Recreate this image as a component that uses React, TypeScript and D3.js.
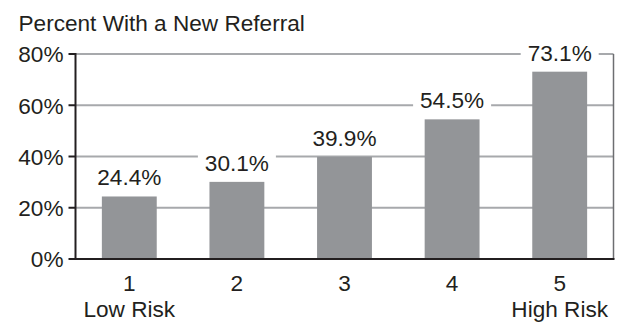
import React from "react";
import * as d3 from "d3";

const categories = ["1", "2", "3", "4", "5"];
const subLabels = ["Low Risk", "", "", "", "High Risk"];
const values = [24.4, 30.1, 39.9, 54.5, 73.1];
const yTicks = [0, 20, 40, 60, 80];
const title = "Percent With a New Referral";

const W = 624;
const H = 322;
const margin = { left: 75.5, right: 10.5, top: 54, bottom: 63 };
const FONT = "Arial, 'Liberation Sans', Helvetica, sans-serif";
const TEXT = "#231f20";
const FS = 22.6;

export default function App() {
  const x = d3
    .scaleBand<string>()
    .domain(categories)
    .range([margin.left, W - margin.right])
    .paddingInner(0.49)
    .paddingOuter(0.245);
  const y = d3.scaleLinear().domain([0, 80]).range([H - margin.bottom, margin.top]);
  const fmt = (v: number) => `${v.toFixed(1)}%`;
  const labelW = 78;

  return (
    <svg
      width={W}
      height={H}
      style={{ position: "absolute", left: 0, top: 0, background: "#fff" }}
      fontFamily={FONT}
    >
      <text x={18.5} y={31} fontSize={FS} fill={TEXT}>
        {title}
      </text>

      {/* horizontal gridlines */}
      {yTicks.slice(1).map((t) => (
        <line
          key={t}
          x1={margin.left}
          x2={W - margin.right}
          y1={y(t)}
          y2={y(t)}
          stroke="#a7a9ac"
          strokeWidth={2}
        />
      ))}

      {/* right frame */}
      <line
        x1={W - margin.right}
        x2={W - margin.right}
        y1={y(80)}
        y2={y(0)}
        stroke="#6d6e71"
        strokeWidth={1.5}
      />

      {/* bars */}
      {values.map((v, i) => (
        <rect
          key={i}
          x={x(categories[i])}
          y={y(v)}
          width={x.bandwidth()}
          height={y(0) - y(v)}
          fill="#939598"
        />
      ))}

      {/* value labels on white backing */}
      {values.map((v, i) => {
        const cx = (x(categories[i]) as number) + x.bandwidth() / 2;
        const by = y(v) - 11;
        return (
          <g key={i}>
            <rect x={cx - labelW / 2} y={by - 18} width={labelW} height={22} fill="#fff" />
            <text x={cx} y={by} textAnchor="middle" fontSize={FS} fill={TEXT}>
              {fmt(v)}
            </text>
          </g>
        );
      })}

      {/* y axis */}
      <line x1={margin.left} x2={margin.left} y1={y(80) - 1} y2={y(0) + 1} stroke={TEXT} strokeWidth={2} />
      {yTicks.map((t) => (
        <g key={t}>
          <line x1={margin.left - 7} x2={margin.left} y1={y(t)} y2={y(t)} stroke={TEXT} strokeWidth={2} />
          <text x={63.5} y={y(t) + 8.3} textAnchor="end" fontSize={FS} fill={TEXT}>
            {`${t}%`}
          </text>
        </g>
      ))}

      {/* x axis */}
      <line x1={margin.left - 1} x2={W - margin.right + 1} y1={y(0)} y2={y(0)} stroke={TEXT} strokeWidth={2} />
      {categories.map((c, i) => {
        const cx = (x(c) as number) + x.bandwidth() / 2;
        return (
          <g key={c}>
            <text x={cx} y={291} textAnchor="middle" fontSize={FS} fill={TEXT}>
              {c}
            </text>
            {subLabels[i] && (
              <text x={cx} y={317} textAnchor="middle" fontSize={FS} fill={TEXT}>
                {subLabels[i]}
              </text>
            )}
          </g>
        );
      })}
    </svg>
  );
}
